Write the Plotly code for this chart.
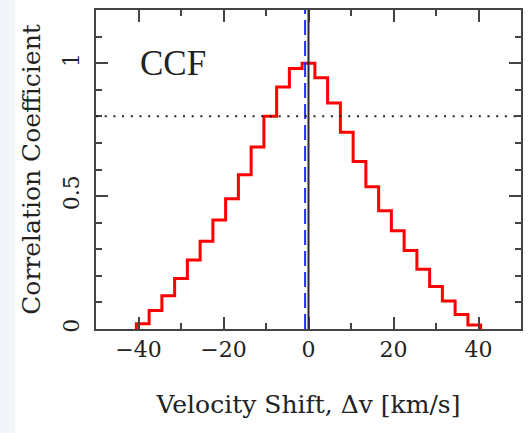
import plotly.graph_objects as go

# ---- data ----
bin_centers = [-39, -36, -33, -30, -27, -24, -21, -18, -15, -12, -9, -6, -3,
               0, 3, 6, 9, 12, 15, 18, 21, 24, 27, 30, 33, 36, 39]
ccf_values = [0.02, 0.07, 0.125, 0.19, 0.26, 0.33, 0.41, 0.49, 0.58, 0.685, 0.80, 0.91, 0.98,
              1.0, 0.945, 0.85, 0.74, 0.63, 0.535, 0.445, 0.37, 0.295, 0.225, 0.16, 0.105, 0.055, 0.015]
bin_width = 3.0
threshold = 0.8
measured_shift = -0.8
x_tick_vals = [-40, -20, 0, 20, 40]
x_tick_text = ["\u221240", "\u221220", "0", "20", "40"]
y_tick_vals = [0, 0.5, 1]
y_tick_text = ["0", "0.5", "1"]

# step outline built from bin edges
half = bin_width / 2
xs = [bin_centers[0] - half] + [c - half for c in bin_centers] + [bin_centers[-1] + half] * 2
ys = [0] + ccf_values + [ccf_values[-1], 0]

fig = go.Figure()
fig.add_trace(go.Scatter(x=xs, y=ys, mode="lines", line=dict(color="#ff0000", width=3, shape="hv"),
                         showlegend=False, hoverinfo="skip"))

fig.add_shape(type="line", xref="x", yref="y", x0=0, x1=0, y0=0, y1=1.2,
              line=dict(color="#2a2a2a", width=2))
fig.add_shape(type="line", xref="x", yref="y", x0=measured_shift, x1=measured_shift, y0=0, y1=1.2,
              line=dict(color="#1f2fff", width=2, dash="15px,6px"))
fig.add_shape(type="line", xref="x", yref="y", x0=-50, x1=50, y0=threshold, y1=threshold,
              line=dict(color="#222222", width=2, dash="2px,6.7px"))

# faint left strip of the page background
fig.add_shape(type="rect", xref="paper", yref="paper", x0=-0.226, x1=-0.19, y0=-0.33, y1=1.04,
              fillcolor="#f3f5fa", line=dict(width=0), layer="below")

fig.add_annotation(x=-32, y=1.0, xref="x", yref="y", text="CCF", showarrow=False,
                   font=dict(family="Liberation Serif", size=35, color="#222222"))

axis_common = dict(showline=True, linecolor="#444444", linewidth=1.5, mirror="allticks",
                   ticks="inside", ticklen=12, tickwidth=1.5, tickcolor="#444444",
                   showgrid=False, zeroline=False, automargin=False,
                   tickfont=dict(family="DejaVu Serif", size=22, color="#222222"))

title_font = dict(family="DejaVu Serif", size=25, color="#222222")

fig.update_xaxes(range=[-50, 50], tickvals=x_tick_vals, ticktext=x_tick_text,
                 minor=dict(dtick=10, ticks="inside", ticklen=6, tickwidth=1.5, tickcolor="#444444"),
                 title=dict(text="Velocity Shift, \u0394v [km/s]", standoff=34, font=title_font),
                 **axis_common)
fig.update_yaxes(range=[0, 1.2], tickvals=y_tick_vals, ticktext=y_tick_text, tickangle=-90,
                 ticklabelstandoff=6,
                 minor=dict(dtick=0.1, ticks="inside", ticklen=6, tickwidth=1.5, tickcolor="#444444"),
                 title=dict(text="Correlation Coefficient", standoff=12, font=title_font),
                 **axis_common)

fig.update_layout(width=529, height=433, margin=dict(l=96, r=8, t=10, b=104),
                  paper_bgcolor="white", plot_bgcolor="white")

fig.write_html("out.html", config={"displayModeBar": False},
               post_script="document.body.style.margin='0';")
